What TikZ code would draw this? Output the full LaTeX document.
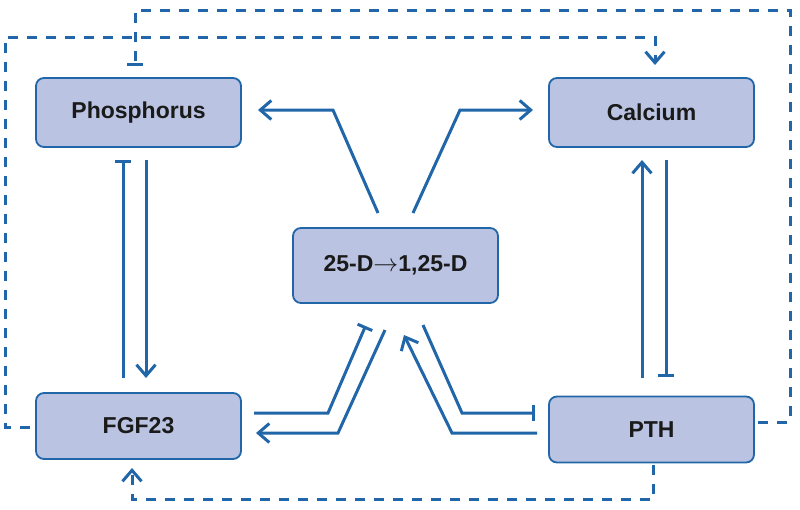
\documentclass[tikz,border=0pt]{standalone}
\usepackage{fontspec}
\setmainfont{Liberation Sans}
\usetikzlibrary{arrows.meta,calc}
\definecolor{linkblue}{RGB}{33,102,168}
\definecolor{boxfill}{RGB}{186,195,225}
\definecolor{boxtext}{RGB}{26,26,26}
\begin{document}
\begin{tikzpicture}[x=1pt,y=-1pt,inner sep=0pt,outer sep=0pt,line width=3pt,
varblock/.style={draw=linkblue,fill=boxfill,text=boxtext,rounded corners=8pt,line width=1.8pt,minimum width=205pt,minimum height=69pt,font=\fontsize{23}{26}\selectfont\bfseries},
act/.style={draw=linkblue,-{Straight Barb[length=11pt,width=19pt]}},
inh/.style={draw=linkblue,-{Bar[width=16pt]}},
fb/.style={dash pattern=on 10pt off 9pt}]
\useasboundingbox (0,0) rectangle (800,509);
\draw (138.5,112.5) node[varblock] (phos) {Phosphorus};
\draw (651.5,112.5) node[varblock] (calcium) {Calcium};
\draw (395.5,265.5) node[varblock,minimum height=75pt] (vitd) {25-D$\rightarrow$1,25-D};
\draw (138.5,426) node[varblock,minimum height=66pt] (fgf) {FGF23};
\draw (651.5,429.5) node[varblock,minimum height=66pt] (pth) {PTH};
\draw[act] ($(vitd.north)+(-17.5,-15)$) -- ++(-45,-103) -- ($(phos.east)+(17,-2.5)$);
\draw[act] ($(vitd.north)+(17.5,-15)$) -- ++(47,-103) -- ($(calcium.west)+(-16,-2.5)$);
\draw[inh] ($(fgf.north)+(-15.5,-15)$) -- ($(phos.south)+(-15.5,13)$);
\draw[act] ($(phos.south)+(7.5,13)$) -- ($(fgf.north)+(7.5,-15)$);
\draw[act] ($(pth.north)+(-9.5,-19)$) -- ($(calcium.south)+(-9.5,13)$);
\draw[inh] ($(calcium.south)+(14.5,13)$) -- ($(pth.north)+(14.5,-20)$);
\draw[inh] ($(fgf.east)+(13,-13)$) -- ++(74,0) -- ($(vitd.south)+(-30,23)$);
\draw[act] ($(vitd.south)+(-10.5,27)$) -- ++(-47,103) -- ($(fgf.east)+(15,7)$);
\draw[act] ($(pth.west)+(-12,3.5)$) -- ++(-85,0) -- ($(vitd.south)+(8.5,32)$);
\draw[inh] ($(vitd.south)+(27.5,22)$) -- ++(39,88) -- ($(pth.west)+(-14,-16.5)$);
\draw[fb,inh] ($(pth.east)+(4,-7.5)$) -| (790,10) -| ($(phos.north)+(-3.5,-12)$);
\draw[fb,act] ($(fgf.west)+(-6,1)$) -- ++(-25,0) |- (655,37) -- ($(calcium.north)+(3.5,-13)$);
\draw[fb,act] ($(pth.south)+(1.5,2)$) |- (132,499) -- ($(fgf.south)+(-6.5,9)$);
\end{tikzpicture}
\end{document}
